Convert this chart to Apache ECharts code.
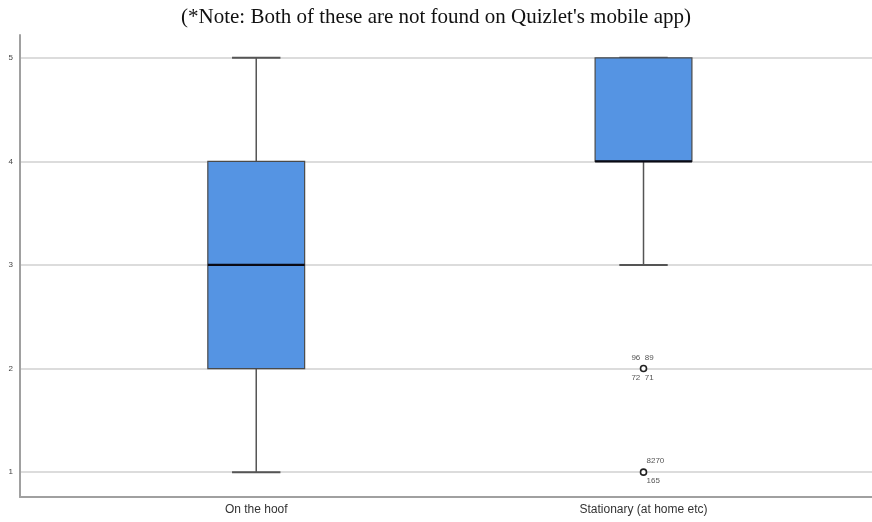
<!DOCTYPE html>
<html>
<head>
<meta charset="utf-8">
<script src="https://cdn.jsdelivr.net/npm/echarts@6/dist/echarts.min.js"></script>
<style>
  html, body { margin: 0; padding: 0; background: #fff; }
  #chart { width: 872px; height: 522px; }
</style>
</head>
<body>
<div id="chart"></div>
<script>
// Rating groups shown along the x axis
const categories = ['On the hoof', 'Stationary (at home etc)'];
// Five-number summaries per group: [min, Q1, median, Q3, max]
const boxStats = [
  [1, 2, 3, 4, 5],
  [3, 4, 4, 5, 5]
];
// Outlying ratings: [group index, value]
const outliers = [
  [1, 2],
  [1, 1]
];
// Case numbers printed around each outlier: [above, below]
const outlierCases = [
  ['96  89', '72  71'],
  ['8270', '165']
];
const yTicks = [1, 2, 3, 4, 5];

const chart = echarts.init(document.getElementById('chart'));

function renderBox(params, api) {
  const i = api.value(0);
  const min = api.value(1), q1 = api.value(2), med = api.value(3), q3 = api.value(4), max = api.value(5);
  const unit = api.size([1, 0])[0];
  const half = unit * 0.125;
  const cap = half / 2;
  const pMin = api.coord([i, min]);
  const pQ1 = api.coord([i, q1]);
  const pMed = api.coord([i, med]);
  const pQ3 = api.coord([i, q3]);
  const pMax = api.coord([i, max]);
  const cx = pMin[0];
  const whisker = { stroke: '#555', lineWidth: 1.5 };
  return {
    type: 'group',
    children: [
      { type: 'line', shape: { x1: cx, y1: pMax[1], x2: cx, y2: pQ3[1] }, style: whisker },
      { type: 'line', shape: { x1: cx, y1: pQ1[1], x2: cx, y2: pMin[1] }, style: whisker },
      { type: 'line', shape: { x1: cx - cap, y1: pMax[1], x2: cx + cap, y2: pMax[1] }, style: { stroke: '#555', lineWidth: 2 } },
      { type: 'line', shape: { x1: cx - cap, y1: pMin[1], x2: cx + cap, y2: pMin[1] }, style: { stroke: '#555', lineWidth: 2 } },
      {
        type: 'rect',
        shape: { x: cx - half, y: pQ3[1], width: half * 2, height: pQ1[1] - pQ3[1] },
        style: { fill: '#5594e3', stroke: '#4a4a4a', lineWidth: 1.2 }
      },
      { type: 'line', shape: { x1: cx - half, y1: pMed[1], x2: cx + half, y2: pMed[1] }, style: { stroke: '#0a0a14', lineWidth: 2.2 } }
    ]
  };
}

function renderOutlier(params, api) {
  const p = api.coord([api.value(0), api.value(1)]);
  const labels = outlierCases[params.dataIndex];
  const second = params.dataIndex === 1;
  const textStyle = { fill: '#555', fontSize: 8, fontFamily: 'Liberation Sans, Arial, sans-serif' };
  return {
    type: 'group',
    children: [
      { type: 'circle', shape: { cx: p[0], cy: p[1], r: 3 }, style: { fill: '#fff', stroke: '#222', lineWidth: 1.6 } },
      {
        type: 'text', x: p[0] + (second ? 3 : -1), y: p[1] - 7,
        style: Object.assign({ text: labels[0], align: second ? 'left' : 'center', verticalAlign: 'bottom' }, textStyle)
      },
      {
        type: 'text', x: p[0] + (second ? 3 : -1), y: p[1] + 5,
        style: Object.assign({ text: labels[1], align: second ? 'left' : 'center', verticalAlign: 'top' }, textStyle)
      }
    ]
  };
}

chart.setOption({
  animation: false,
  title: {
    text: "(*Note: Both of these are not found on Quizlet's mobile app)",
    left: 'center',
    top: 2,
    textStyle: { fontFamily: 'Liberation Serif, Times New Roman, serif', fontWeight: 'normal', fontSize: 21, color: '#111' }
  },
  grid: { left: 20, right: 0, top: 35, bottom: 25, containLabel: false },
  xAxis: {
    type: 'value',
    min: -0.61,
    max: 1.59,
    axisLine: { show: true, onZero: false, lineStyle: { color: '#a0a0a0', width: 2 } },
    axisTick: { show: false, customValues: [0, 1] },
    splitLine: { show: false },
    axisLabel: {
      customValues: [0, 1],
      formatter: function (v) { return categories[Math.round(v)]; },
      color: '#333',
      fontSize: 12,
      fontFamily: 'Liberation Sans, Arial, sans-serif',
      margin: 7
    }
  },
  yAxis: {
    type: 'value',
    min: 0.76,
    max: 5.22,
    axisLine: { show: true, onZero: false, lineStyle: { color: '#a0a0a0', width: 2 } },
    axisTick: { show: false, customValues: yTicks },
    splitLine: { show: true, lineStyle: { color: '#dcdcdc', width: 2 } },
    axisLabel: {
      customValues: yTicks,
      color: '#444',
      fontSize: 8,
      fontFamily: 'Liberation Sans, Arial, sans-serif',
      margin: 7
    }
  },
  series: [
    {
      type: 'custom',
      renderItem: renderBox,
      encode: { x: 0, y: [1, 2, 3, 4, 5] },
      data: boxStats.map(function (s, i) { return [i].concat(s); }),
      z: 2
    },
    {
      type: 'custom',
      renderItem: renderOutlier,
      encode: { x: 0, y: 1 },
      data: outliers,
      z: 3
    }
  ]
});
</script>
</body>
</html>
